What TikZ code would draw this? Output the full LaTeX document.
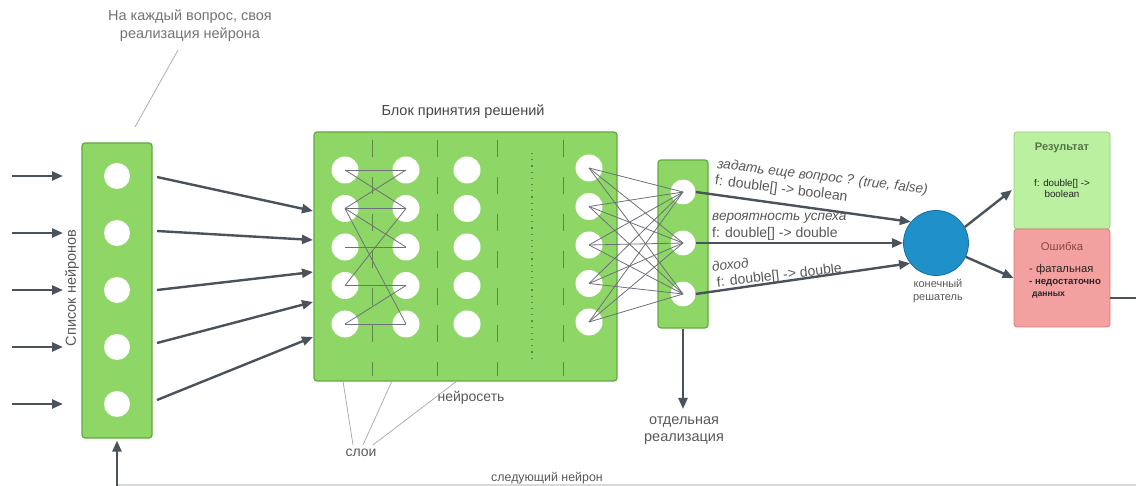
\documentclass[tikz,border=0pt]{standalone}
\usepackage{fontspec}
\setmainfont{Liberation Sans}
\usetikzlibrary{arrows.meta,calc}
\definecolor{boxgreen}{RGB}{142,214,102}
\definecolor{boxgreenborder}{RGB}{98,168,64}
\definecolor{arrowgray}{RGB}{74,82,92}
\definecolor{linkgray}{RGB}{110,112,122}
\definecolor{txtgray}{RGB}{88,88,88}
\definecolor{dashgreen}{RGB}{92,135,70}
\definecolor{blueball}{RGB}{31,145,200}
\definecolor{blueborder}{RGB}{25,110,160}
\definecolor{resgreen}{RGB}{186,240,160}
\definecolor{resborder}{RGB}{150,205,125}
\definecolor{errpink}{RGB}{242,160,160}
\definecolor{errborder}{RGB}{215,125,125}
\definecolor{restitle}{RGB}{85,115,70}
\definecolor{errtitle}{RGB}{140,70,70}
\tikzset{
  greenbox/.style={draw=boxgreenborder, fill=boxgreen, line width=1.2pt, rounded corners=3pt, inner sep=0},
  neuron/.style={circle, fill=white, inner sep=0, minimum size=26pt},
  bigarrow/.style={draw=arrowgray, line width=2.4pt, -{Triangle[length=11pt,width=9pt]}},
  link/.style={draw=linkgray, line width=0.8pt},
  layerdash/.style={draw=dashgreen, line width=0.9pt, dash pattern=on 17pt off 20pt},
  lbl/.style={text=txtgray, inner sep=0, font=\fontsize{14}{16}\selectfont},
  annot/.style={draw=gray!70, line width=0.7pt},
}
\begin{document}
\begin{tikzpicture}[x=1pt,y=-1pt]
\useasboundingbox (0,0) rectangle (1136,486);
% ---------- left box: list of neurons
\node[greenbox, minimum width=70pt, minimum height=295pt] (lb) at (117,290.5) {};
\foreach \i/\y in {1/176,2/233,3/290,4/347,5/404}{
  \node[neuron] (l\i) at (117,\y) {};
  \coordinate (in\i) at (12,\y);
  \coordinate (inend\i) at (63,\y);
  \draw[bigarrow] (in\i) -- (inend\i);
}
\node[lbl, rotate=90, font=\fontsize{14.5}{16}\selectfont] (listlbl) at (72,288) {Список нейронов};
% top note
\node[lbl, text=gray!90!black, align=center, font=\fontsize{14.5}{18}\selectfont] (topnote) at (190,26) {На каждый вопрос, своя\\реализация нейрона};
\coordinate (tn1) at (178,50);
\coordinate (tn2) at (135,127);
\draw[annot] (tn1) -- (tn2);
% ---------- big box
\node[greenbox, minimum width=303pt, minimum height=249pt] (bb) at (465.5,256.5) {};
\node[lbl, text=black!72, font=\fontsize{14.5}{16}\selectfont] (bbtitle) at (463,112) {Блок принятия решений};
\foreach \x [count=\k] in {372,437,497,563}{
  \coordinate (dt\k) at (\x,140);
  \coordinate (db\k) at (\x,376);
  \draw[layerdash] (dt\k) -- (db\k);
}
\coordinate (dots1) at (532,153);
\coordinate (dots2) at (532,360);
\draw[draw=dashgreen, line width=1.1pt, dash pattern=on 1.2pt off 5pt] (dots1) -- (dots2);
\foreach \i/\y in {1/170,2/208.5,3/247,4/285.5,5/324}{
  \node[neuron, minimum size=27pt] (a\i) at (345,\y) {};
  \node[neuron, minimum size=27pt] (b\i) at (406,\y) {};
  \node[neuron, minimum size=27pt] (c\i) at (467,\y) {};
  \node[neuron, minimum size=27pt] (d\i) at (589,\y-2) {};
}
\foreach \p/\q in {a1/b1,a1/b2,b1/a2,a2/b2,a2/b3,a2/b5,b2/a4,a3/b3,a4/b4,b4/a5,a5/b5}{
  \draw[link] (\p.center) -- (\q.center);
}
% ---------- output box
\node[greenbox, minimum width=50pt, minimum height=168pt] (ob) at (683,244) {};
\foreach \j/\y in {1/192,2/243,3/294}{
  \node[neuron, minimum size=25pt] (o\j) at (683,\y) {};
}
\foreach \i in {1,...,5}{
  \foreach \j in {1,2,3}{
    \draw[link] (d\i.center) -- (o\j.center);
  }
}
% arrows left box -> big box
\foreach \i/\ys/\ye in {1/177/211,2/231/240,3/290/272,4/343/302,5/400/337}{
  \coordinate (ls\i) at (157,\ys);
  \coordinate (be\i) at (313,\ye);
  \draw[bigarrow] (ls\i) -- (be\i);
}
% layer annotations
\node[lbl] (sloi) at (361,453) {слои};
\node[lbl] (nset) at (471,398) {нейросеть};
\coordinate (sl1) at (343,381);
\coordinate (sl2) at (392,381);
\coordinate (sl3) at (457,381);
\draw[annot] (sl1) -- ([xshift=-8pt,yshift=4pt]sloi.north);
\draw[annot] (sl2) -- ([xshift=2pt,yshift=4pt]sloi.north);
\draw[annot] (sl3) -- ([xshift=12pt,yshift=4pt]sloi.north);
% separate realization
\coordinate (obdown) at (683,409);
\draw[bigarrow] (ob.south) -- (obdown);
\node[lbl, align=center, font=\fontsize{14.5}{17}\selectfont] (sep) at (684,431) {отдельная\\реализация};
% ---------- final decider
\node[circle, fill=blueball, draw=blueborder, line width=0.8pt, minimum size=65pt, inner sep=0] (dec) at (936,243) {};
\node[lbl, align=center, font=\fontsize{11}{13}\selectfont] (declbl) at (938,291) {конечный\\решатель};
\draw[bigarrow] (o1.east) -- (dec.140);
\draw[bigarrow] (o2.east) -- (dec.west);
\draw[bigarrow] (o3.east) -- (dec.218);
\node[lbl, anchor=west, rotate=-7, align=left, font=\fontsize{14}{17}\selectfont] (q) at (716,173)
  {{\fontsize{13.7}{17}\itshape задать еще вопрос ? (true, false)}\\f: double[] -> boolean};
\node[lbl, anchor=west, align=left, font=\fontsize{14}{17}\selectfont] (p) at (712,226.5)
  {{\fontsize{13.6}{17}\itshape вероятность успеха}\\f: double[] -> double};
\node[lbl, anchor=west, rotate=6.5, align=left, font=\fontsize{14}{16}\selectfont] (r) at (713,276)
  {{\fontsize{13.6}{16}\itshape доход}\\\hspace*{3pt}f: double[] -> double};
% ---------- result / error
\node[draw=resborder, fill=resgreen, line width=0.8pt, rounded corners=3pt, minimum width=96pt, minimum height=97pt, inner sep=0] (res) at (1062,180.5) {};
\node[draw=errborder, fill=errpink, line width=0.8pt, rounded corners=3pt, minimum width=96pt, minimum height=98pt, inner sep=0] (err) at (1062,278) {};
\node[inner sep=0, text=restitle, font=\fontsize{11}{12}\bfseries] (rt) at (1062,148) {Результат};
\node[inner sep=0, text=black!85, align=center, font=\fontsize{9.8}{11}\selectfont] (rb) at (1062,188) {f: double[] ->\\boolean};
\node[inner sep=0, text=errtitle, font=\fontsize{11.3}{12}\selectfont] (et) at (1062,246) {Ошибка};
\node[inner sep=0, anchor=west, text=black!85, font=\fontsize{11.2}{12}\selectfont] (e1) at (1029,270) {- фатальная};
\node[inner sep=0, anchor=west, text=black!85, font=\fontsize{9.6}{10}\bfseries] (e2) at (1029,283) {- недостаточно};
\node[inner sep=0, anchor=west, text=black!85, font=\fontsize{8.6}{10}\bfseries] (e3) at (1032,295) {данных};
\coordinate (resin) at (1012,190);
\draw[bigarrow] (dec.29) -- (resin);
\draw[bigarrow] (dec.-25) -- (err.west);
% ---------- feedback loop
\coordinate (exitR) at (1136,298);
\draw[draw=arrowgray, line width=2.4pt] ([yshift=-20pt]err.east) -- (exitR);
\coordinate (botR) at (1136,485);
\coordinate (botL) at (117,485);
\draw[draw=gray!30, line width=1.5pt] (botR) -- (botL);
\coordinate (botup) at (117,487);
\draw[bigarrow] (botup) -- ([yshift=-2pt]lb.south);
\node[lbl, font=\fontsize{12.4}{13}\selectfont] (nextn) at (547,478) {следующий нейрон};
\end{tikzpicture}
\end{document}
